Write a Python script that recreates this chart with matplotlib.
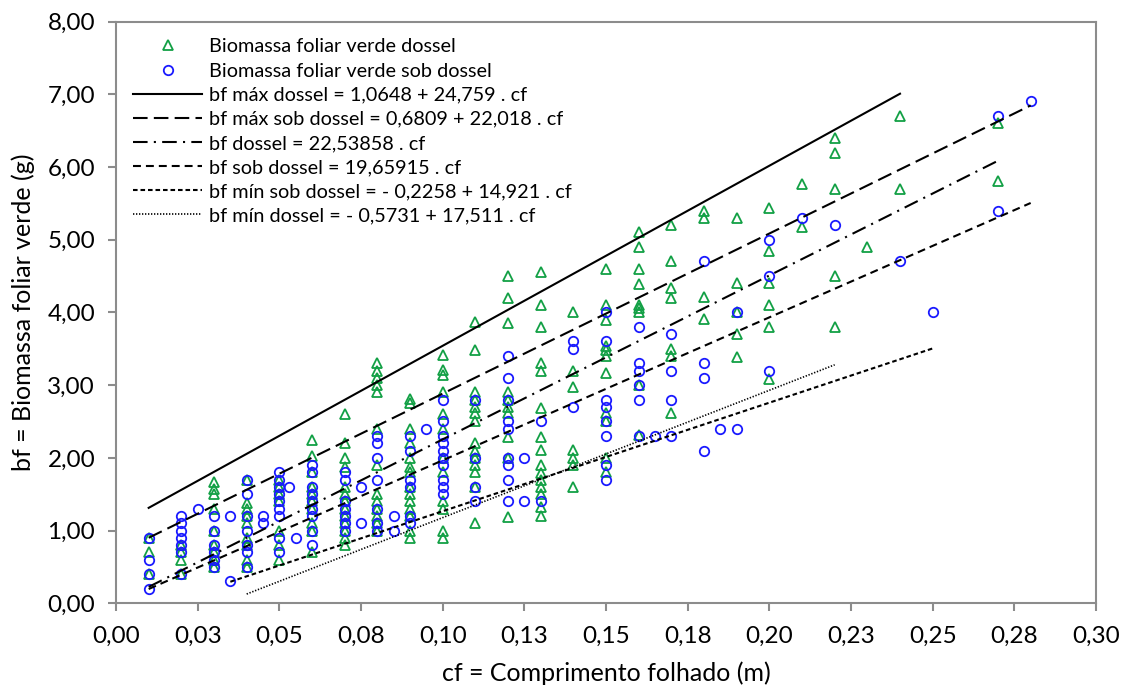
import matplotlib
matplotlib.use("Agg")
import matplotlib.pyplot as plt
import numpy as np

plt.rcParams["font.family"] = ["Lato", "DejaVu Sans"]

# green triangles: Biomassa foliar verde dossel (one list of bf per cf column)
dossel_cf = [0.01, 0.02, 0.03, 0.04, 0.05, 0.06, 0.07, 0.08, 0.09, 0.10,
             0.11, 0.12, 0.13, 0.14, 0.15, 0.16, 0.17, 0.18, 0.19, 0.20,
             0.21, 0.22, 0.23, 0.24, 0.27]
dossel_bf = [
    [0.9, 0.7, 0.4],
    [0.8, 0.7, 0.6, 0.4],
    [1.67, 1.57, 1.5, 1.3, 1.0, 0.8, 0.7, 0.6, 0.5],
    [1.7, 1.38, 1.29, 1.2, 1.1, 0.9, 0.8, 0.6, 0.5],
    [1.7, 1.6, 1.5, 1.4, 1.0, 0.8, 0.6],
    [2.24, 2.02, 1.8, 1.6, 1.5, 1.4, 1.3, 1.1, 1.0, 0.7],
    [2.6, 2.2, 2.0, 1.88, 1.6, 1.5, 1.4, 1.3, 1.2, 1.1, 1.0, 0.9, 0.8],
    [3.3, 3.2, 3.1, 3.0, 2.9, 2.4, 1.9, 1.5, 1.4, 1.3, 1.2, 1.1, 1.0],
    [2.81, 2.76, 2.4, 2.2, 2.0, 1.88, 1.8, 1.6, 1.5, 1.4, 1.3, 1.2, 1.0, 0.9],
    [3.42, 3.21, 3.14, 2.91, 2.6, 2.4, 2.0, 1.8, 1.4, 1.3, 1.0, 0.9],
    [3.87, 3.48, 2.91, 2.8, 2.7, 2.61, 2.5, 2.2, 2.1, 2.0, 1.9, 1.8, 1.6, 1.1],
    [4.5, 4.2, 3.85, 2.91, 2.8, 2.7, 2.61, 2.29, 2.0, 1.19],
    [4.56, 4.1, 3.8, 3.31, 3.19, 2.68, 2.29, 2.11, 1.9, 1.79, 1.7, 1.6, 1.5, 1.33, 1.2],
    [4.0, 3.2, 2.98, 2.11, 2.0, 1.9, 1.6],
    [4.59, 4.1, 3.9, 3.54, 3.48, 3.4, 3.17, 2.61, 2.5, 2.0, 1.8],
    [5.1, 4.9, 4.59, 4.39, 4.1, 4.06, 4.0, 3.0, 2.31],
    [5.2, 4.71, 4.33, 4.2, 3.5, 3.4, 2.61],
    [5.4, 5.3, 4.21, 3.91],
    [5.3, 4.4, 4.0, 3.7, 3.39],
    [5.43, 4.84, 4.4, 4.1, 3.8, 3.09],
    [5.77, 5.17],
    [6.4, 6.19, 5.69, 4.5, 3.8],
    [4.9],
    [6.7, 5.7],
    [6.6, 5.8],
]

# blue circles: Biomassa foliar verde sob dossel
sob_cf = [0.01, 0.02, 0.025, 0.03, 0.035, 0.04, 0.045, 0.05, 0.053, 0.055,
          0.06, 0.07, 0.075, 0.08, 0.085, 0.09, 0.095, 0.10, 0.11, 0.12,
          0.125, 0.13, 0.14, 0.15, 0.16, 0.165, 0.17, 0.18, 0.185, 0.19,
          0.20, 0.21, 0.22, 0.24, 0.25, 0.27, 0.28]
sob_bf = [
    [0.9, 0.6, 0.4, 0.2],
    [1.2, 1.1, 1.0, 0.9, 0.8, 0.7, 0.4],
    [1.3],
    [1.2, 1.0, 0.8, 0.7, 0.6, 0.5],
    [1.2, 0.3],
    [1.7, 1.5, 1.2, 1.0, 0.8, 0.7, 0.5],
    [1.2, 1.1],
    [1.8, 1.7, 1.6, 1.5, 1.4, 1.3, 1.2, 0.9, 0.7],
    [1.6],
    [0.9],
    [1.9, 1.8, 1.6, 1.5, 1.4, 1.3, 1.2, 1.0, 0.8],
    [1.8, 1.7, 1.4, 1.3, 1.2, 1.1, 1.0],
    [1.6, 1.1],
    [2.3, 2.2, 2.0, 1.7, 1.3, 1.1, 1.0],
    [1.2, 1.0],
    [2.3, 2.1, 1.7, 1.6, 1.2, 1.1],
    [2.4],
    [2.8, 2.5, 2.3, 2.2, 2.1, 2.0, 1.9, 1.7, 1.6, 1.5],
    [2.8, 2.0, 1.6, 1.4],
    [3.4, 3.1, 2.8, 2.5, 2.4, 2.0, 1.9, 1.7, 1.4],
    [2.0, 1.4],
    [2.5, 1.4],
    [3.6, 3.5, 2.7],
    [4.0, 3.6, 2.8, 2.7, 2.5, 2.3, 1.9, 1.7],
    [3.8, 3.3, 3.2, 3.0, 2.8, 2.3],
    [2.3],
    [3.7, 3.2, 2.8, 2.3],
    [4.7, 3.3, 3.1, 2.1],
    [2.4],
    [4.0, 2.4],
    [5.0, 4.5, 3.2],
    [5.3],
    [5.2],
    [4.7],
    [4.0],
    [6.7, 5.4],
    [6.9],
]

# fitted lines (legend equations) and the cf range each one spans
line_labels = [
    "bf máx dossel = 1,0648 + 24,759 . cf",
    "bf máx sob dossel = 0,6809 + 22,018 . cf",
    "bf dossel = 22,53858 . cf",
    "bf sob dossel = 19,65915 . cf",
    "bf mín sob dossel = - 0,2258 + 14,921 . cf",
    "bf mín dossel = - 0,5731 + 17,511 . cf",
]
line_intercepts = [1.0648, 0.6809, 0.0, 0.0, -0.2258, -0.5731]
line_slopes = [24.759, 22.018, 22.53858, 19.65915, 14.921, 17.511]
line_cf_start = [0.01, 0.01, 0.01, 0.01, 0.035, 0.04]
line_cf_end = [0.24, 0.28, 0.27, 0.28, 0.25, 0.22]

x_ticks = [0.0, 0.025, 0.05, 0.075, 0.10, 0.125, 0.15, 0.175, 0.20, 0.225, 0.25, 0.275, 0.30]
x_tick_labels = ["0,00", "0,03", "0,05", "0,08", "0,10", "0,13", "0,15",
                 "0,18", "0,20", "0,23", "0,25", "0,28", "0,30"]
y_ticks = [0, 1, 2, 3, 4, 5, 6, 7, 8]
y_tick_labels = ["0,00", "1,00", "2,00", "3,00", "4,00", "5,00", "6,00", "7,00", "8,00"]

green = "#12a045"
blue = "#1a1aff"
grey = "#8c8c8c"

# line width 1.5, dash patterns are in multiples of it
line_styles = [
    dict(linestyle="-", lw=1.5),
    dict(linestyle=(0, (7, 3)), lw=1.5),
    dict(linestyle=(0, (7, 3, 1, 3)), lw=1.5),
    dict(linestyle=(0, (3.8, 2.4)), lw=1.5),
    dict(linestyle=(0, (2.2, 1.4)), lw=1.5),
    dict(linestyle=(0, (0.8, 1.0)), lw=1.2),
]


def flatten(cols, vals):
    xs, ys = [], []
    for c, v in zip(cols, vals):
        xs += [c] * len(v)
        ys += v
    return np.array(xs), np.array(ys)


def draw():
    fig = plt.figure(figsize=(11.24, 6.93), dpi=100)
    ax = fig.add_axes([116 / 1124, 1 - 603.3 / 693, 980 / 1124, 581.8 / 693])

    x_d, y_d = flatten(dossel_cf, dossel_bf)
    x_s, y_s = flatten(sob_cf, sob_bf)

    ax.plot(x_d, y_d, linestyle="none", marker="^", ms=6.8, mfc="none",
            mec=green, mew=1.3, label="Biomassa foliar verde dossel", zorder=3)
    ax.plot(x_s, y_s, linestyle="none", marker="o", ms=6.8, mfc="none",
            mec=blue, mew=1.3, label="Biomassa foliar verde sob dossel", zorder=4)

    for lbl, b, m, x0, x1, st in zip(line_labels, line_intercepts, line_slopes,
                                      line_cf_start, line_cf_end, line_styles):
        xx = np.array([x0, x1])
        ax.plot(xx, b + m * xx, color="black", label=lbl, zorder=5, **st)

    ax.set_xlim(0, 0.30)
    ax.set_ylim(0, 8)
    ax.set_xticks(x_ticks)
    ax.set_xticklabels(x_tick_labels)
    ax.set_yticks(y_ticks)
    ax.set_yticklabels(y_tick_labels)
    ax.tick_params(axis="both", direction="out", length=6, width=1.5,
                   color=grey, labelsize=17.5)
    ax.tick_params(axis="x", pad=10)
    ax.tick_params(axis="y", pad=9)

    for sp in ax.spines.values():
        sp.set_color(grey)
        sp.set_linewidth(1.5)

    ax.set_xlabel("cf = Comprimento folhado (m)", fontsize=18, labelpad=11)
    ax.set_ylabel("bf = Biomassa foliar verde (g)", fontsize=18, labelpad=9)

    ax.legend(loc="upper left", bbox_to_anchor=(0.0, 1.0), frameon=False,
              fontsize=14.3, numpoints=1, handlelength=3.5, handletextpad=0.35,
              labelspacing=0.36, borderaxespad=0.45)

    fig.savefig("out.png", dpi=100)


if __name__ == "__main__":
    draw()
